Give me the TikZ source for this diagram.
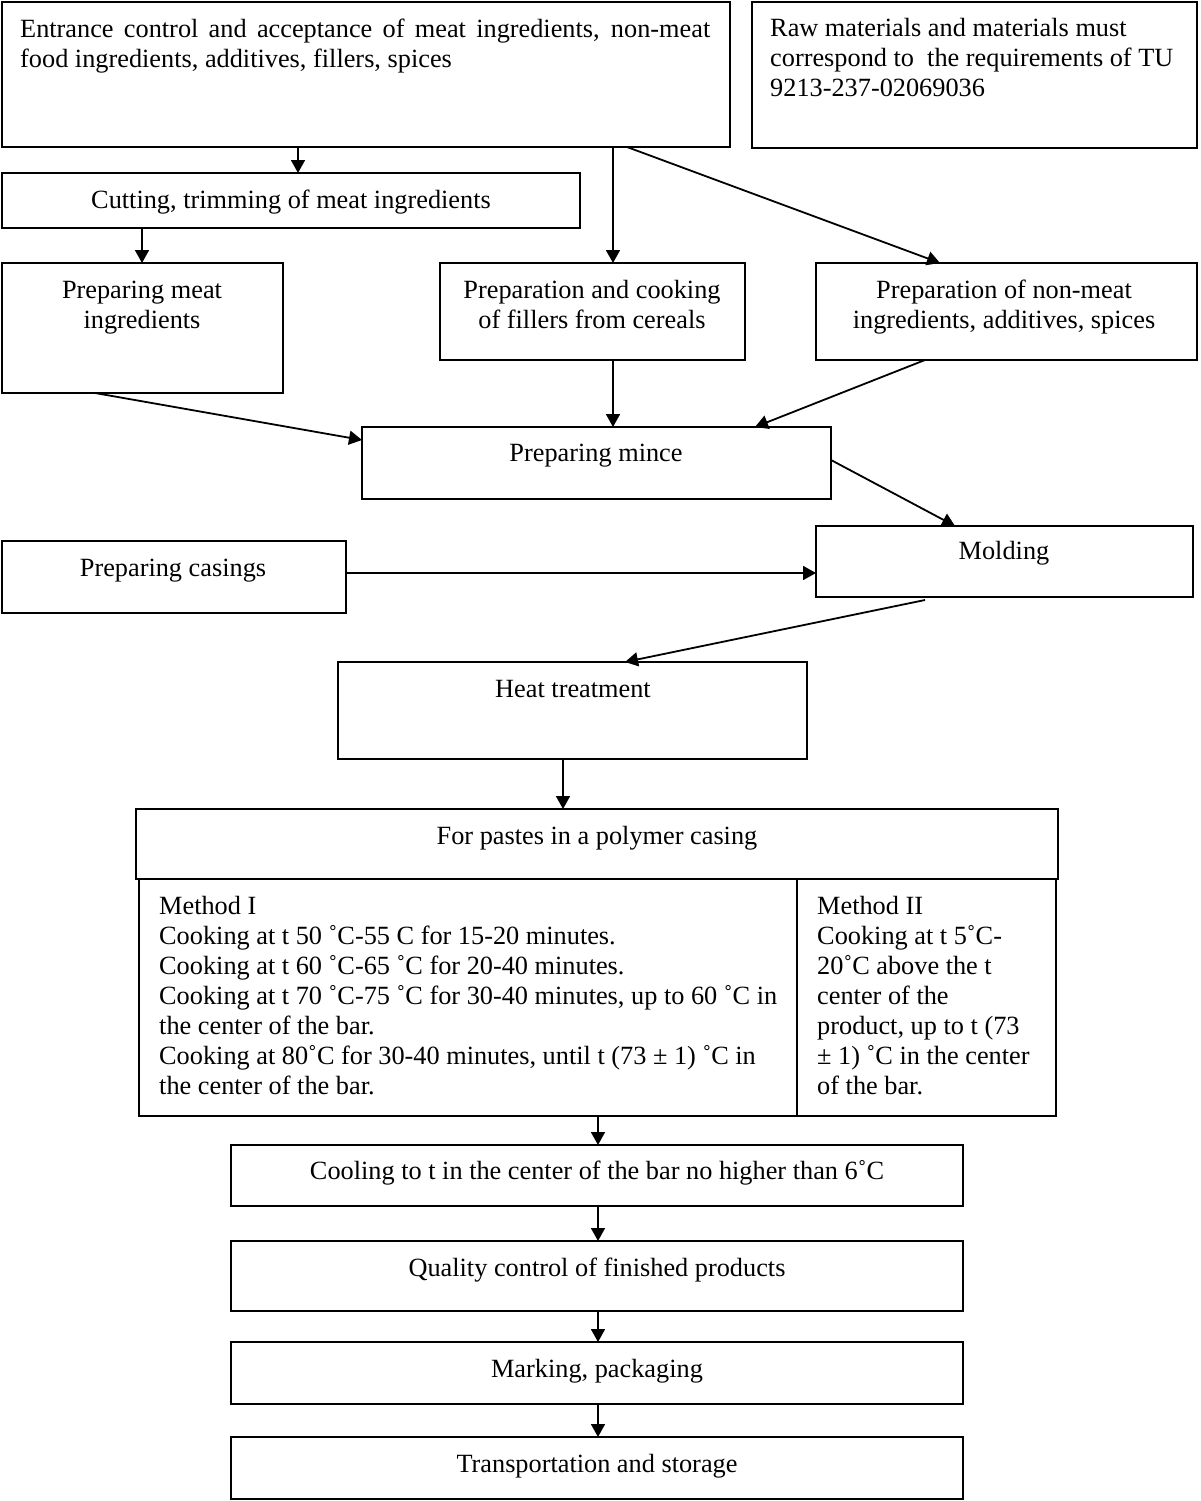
\documentclass[tikz,border=0pt]{standalone}
\usepackage{fontspec}
\setmainfont{Liberation Serif}
\usetikzlibrary{arrows.meta}
\newcommand\mybox[5]{\node[box, minimum width={#4-#2}, minimum height={#5-#3}] (#1) at (#2,#3) {};}
\begin{document}
\begin{tikzpicture}[x=1pt,y=-1pt,
  box/.style={draw, line width=1.8pt, inner sep=0pt, outer sep=0pt, anchor=north west},
  txt/.style={inner sep=0pt, anchor=base, font=\fontsize{26.3}{30}\selectfont},
  ltxt/.style={txt, align=left, anchor=base west},
  ctxt/.style={txt, align=center},
  arr/.style={-{Triangle[length=13pt,width=14pt]}, line width=1.8pt}]
\fill[white] (0,0) rectangle (1200,1501);
\useasboundingbox (0,0) rectangle (1200,1501);
% boxes
\mybox{top}{2}{2}{730}{147}
\mybox{raw}{752}{2}{1197}{148}
\mybox{cut}{2}{173}{580}{228}
\mybox{meat}{2}{263}{283}{393}
\mybox{fill}{440}{263}{745}{360}
\mybox{nonmeat}{816}{263}{1197}{360}
\mybox{mince}{362}{427}{831}{499}
\mybox{casing}{2}{541}{346}{613}
\mybox{mold}{816}{526}{1193}{597}
\mybox{heat}{338}{662}{807}{759}
\mybox{paste}{136}{809}{1058}{879}
\mybox{mone}{139}{879}{797}{1116}
\mybox{mtwo}{797}{879}{1056}{1116}
\mybox{cool}{231}{1145}{963}{1206}
\mybox{qual}{231}{1241}{963}{1311}
\mybox{mark}{231}{1342}{963}{1404}
\mybox{trans}{231}{1437}{963}{1499}
% texts (multi-line nodes: base is the baseline of the last line)
\node[ltxt] (ttop) at (20,68) {\makebox[690pt][s]{Entrance control and acceptance of meat ingredients, non-meat}\\food ingredients, additives, fillers, spices};
\node[ltxt] (traw) at (770,97) {Raw materials and materials must\\correspond to\ \ the requirements of TU\\9213-237-02069036};
\node[ctxt] (tcut) at (291,208) {Cutting, trimming of meat ingredients};
\node[ctxt] (tmeat) at (142,328) {Preparing meat\\ingredients};
\node[ctxt] (tfill) at (592,328) {Preparation and cooking\\of fillers from cereals};
\node[ctxt] (tnon) at (1004,328) {Preparation of non-meat\\ingredients, additives, spices};
\node[ctxt] (tmince) at (596,461) {Preparing mince};
\node[ctxt] (tcas) at (173,576) {Preparing casings};
\node[ctxt] (tmold) at (1004,559) {Molding};
\node[ctxt] (theat) at (573,697) {Heat treatment};
\node[ctxt] (tpaste) at (597,844) {For pastes in a polymer casing};
\node[ltxt] (tone) at (159,1094) {Method I\\Cooking at t 50 ˚C-55 C for 15-20 minutes.\\Cooking at t 60 ˚C-65 ˚C for 20-40 minutes.\\Cooking at t 70 ˚C-75 ˚C for 30-40 minutes, up to 60 ˚C in\\the center of the bar.\\Cooking at 80˚C for 30-40 minutes, until t (73 ± 1) ˚C in\\the center of the bar.};
\node[ltxt] (ttwo) at (817,1094) {Method II\\Cooking at t 5˚C-\\20˚C above the t\\center of the\\product, up to t (73\\± 1) ˚C in the center\\of the bar.};
\node[ctxt] (tcool) at (597,1179) {Cooling to t in the center of the bar no higher than 6˚C};
\node[ctxt] (tqual) at (597,1276) {Quality control of finished products};
\node[ctxt] (tmark) at (597,1377) {Marking, packaging};
\node[ctxt] (ttrans) at (597,1472) {Transportation and storage};
% arrows
\draw[arr] ([xshift=296pt]top.south west) -- ([xshift=296pt]cut.north west);
\draw[arr] ([xshift=611pt]top.south west) -- ([xshift=173pt]fill.north west);
\draw[arr] ([xshift=625pt]top.south west) -- ([xshift=124pt]nonmeat.north west);
\draw[arr] ([xshift=140pt]cut.south west) -- ([xshift=140pt]meat.north west);
\draw[arr] ([xshift=93pt]meat.south west) -- ([yshift=-13pt]mince.north west);
\draw[arr] ([xshift=173pt]fill.south west) -- ([xshift=251pt]mince.north west);
\draw[arr] ([xshift=109pt]nonmeat.south west) -- ([xshift=393pt]mince.north west);
\draw[arr] ([yshift=-33pt]mince.north east) -- ([xshift=139pt]mold.north west);
\draw[arr] ([yshift=-32pt]casing.north east) -- ([yshift=-47pt]mold.north west);
\draw[arr] ([xshift=109pt,yshift=-3pt]mold.south west) -- ([xshift=287pt]heat.north west);
\draw[arr] ([xshift=225pt]heat.south west) -- ([xshift=427pt]paste.north west);
\draw[arr] ([xshift=459pt]mone.south west) -- ([xshift=367pt]cool.north west);
\draw[arr] ([xshift=367pt]cool.south west) -- ([xshift=367pt]qual.north west);
\draw[arr] ([xshift=367pt]qual.south west) -- ([xshift=367pt]mark.north west);
\draw[arr] ([xshift=367pt]mark.south west) -- ([xshift=367pt]trans.north west);
\end{tikzpicture}
\end{document}
